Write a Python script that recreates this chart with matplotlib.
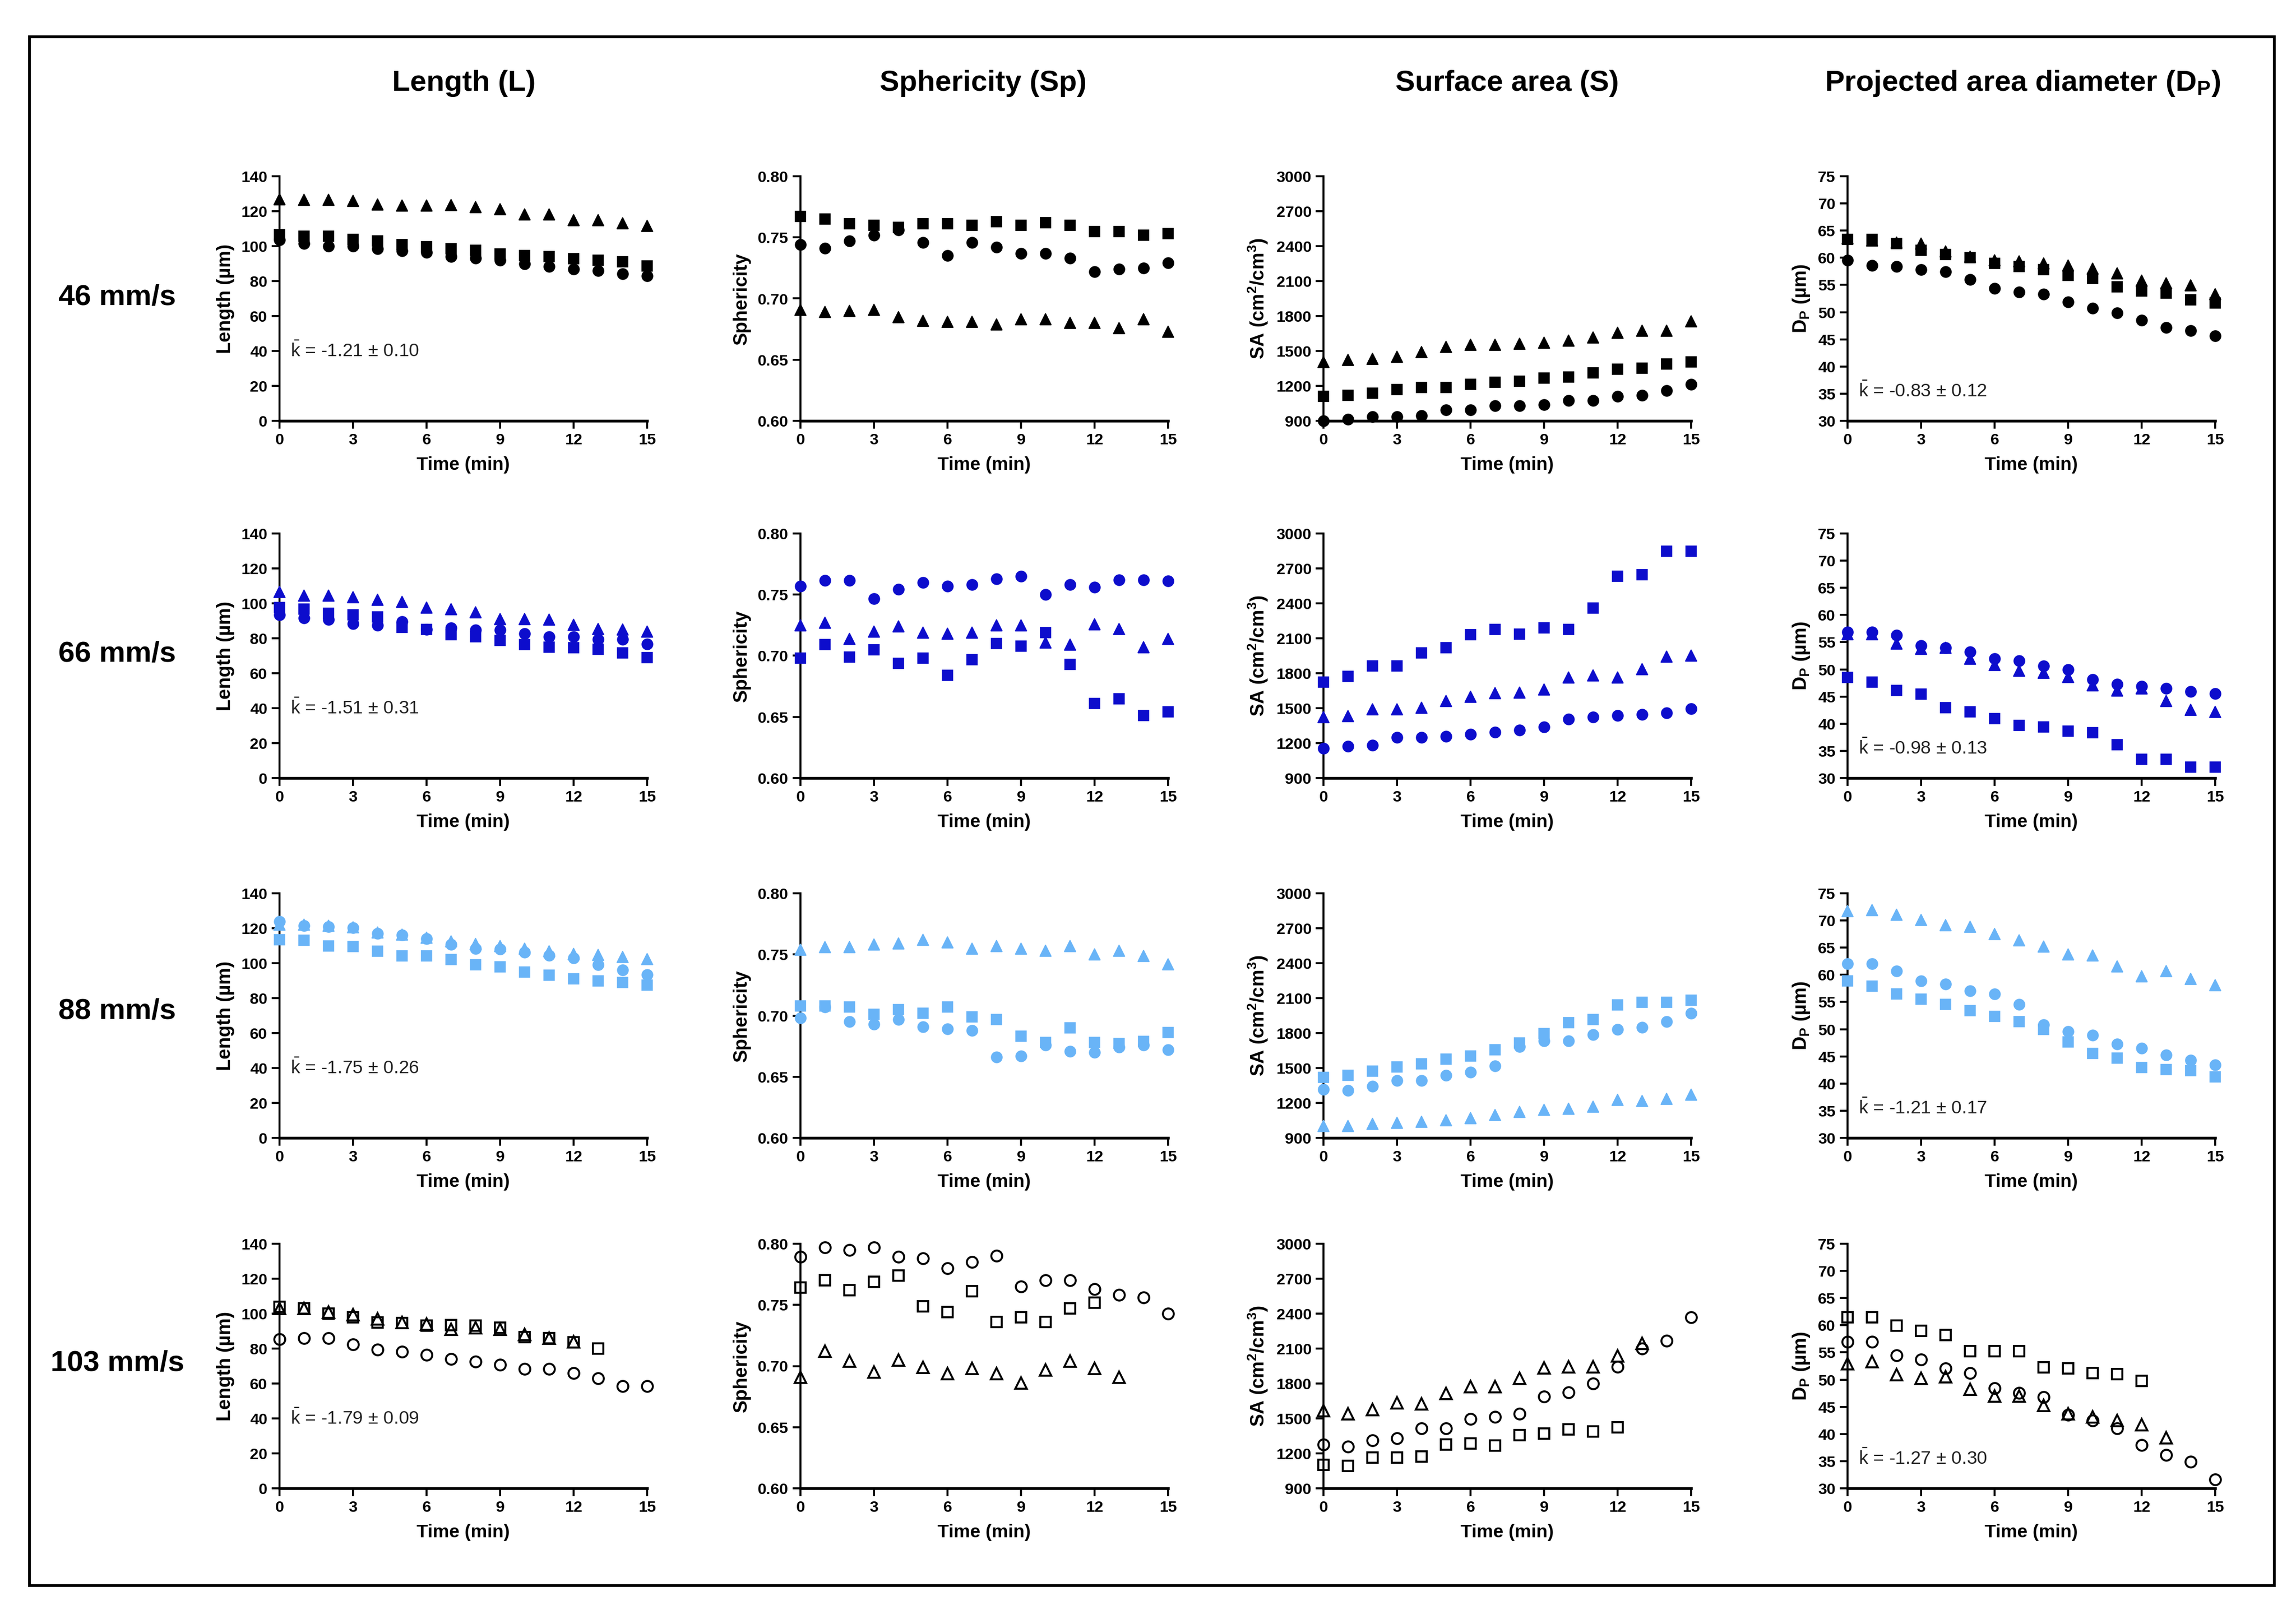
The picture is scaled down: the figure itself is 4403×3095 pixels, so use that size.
import matplotlib.pyplot as plt
import matplotlib.patches as mpatches
from matplotlib.ticker import FormatStrFormatter

plt.rcParams["font.family"] = ["Liberation Sans", "DejaVu Sans"]
plt.rcParams["mathtext.fontset"] = "custom"
plt.rcParams["mathtext.rm"] = "Liberation Sans"
plt.rcParams["mathtext.bf"] = "Liberation Sans:bold"
plt.rcParams["mathtext.it"] = "Liberation Sans:italic"

W, H, DPI = 4403, 3095, 300

TIME = list(range(16))

# ---------- 46 mm/s (filled black) ----------
LENGTH_46 = {
    "circle":   [103.5, 101.5, 100, 100, 98.5, 97.3, 96.3, 94, 93, 92, 90, 88.5, 87, 86, 84.3, 83],
    "square":   [106.5, 105.7, 105.7, 104, 103, 100.8, 99.8, 98.5, 97.5, 95.5, 94.7, 94, 92.7, 92, 91, 88.7],
    "triangle": [127, 126.7, 126.7, 126, 124, 123.3, 123.3, 123.5, 122.3, 121.3, 118.3, 118.3, 115, 115, 113, 111.5],
}
SPHER_46 = {
    "circle":   [0.744, 0.741, 0.747, 0.752, 0.756, 0.746, 0.735, 0.746, 0.742, 0.737, 0.737, 0.733, 0.722, 0.724, 0.725, 0.729],
    "square":   [0.767, 0.765, 0.761, 0.760, 0.758, 0.761, 0.761, 0.760, 0.763, 0.760, 0.762, 0.760, 0.755, 0.755, 0.752, 0.753],
    "triangle": [0.691, 0.689, 0.690, 0.691, 0.685, 0.682, 0.681, 0.681, 0.679, 0.683, 0.683, 0.680, 0.680, 0.676, 0.683, 0.673],
}
SA_46 = {
    "circle":   [900, 913, 937, 937, 946, 992, 992, 1029, 1029, 1038, 1075, 1075, 1112, 1121, 1158, 1213],
    "square":   [1112, 1121, 1139, 1167, 1185, 1185, 1213, 1231, 1240, 1268, 1277, 1314, 1342, 1351, 1388, 1406],
    "triangle": [1406, 1424, 1434, 1452, 1489, 1535, 1553, 1553, 1563, 1572, 1590, 1618, 1655, 1673, 1673, 1756],
}
DP_46 = {
    "circle":   [59.6, 58.6, 58.4, 57.8, 57.4, 56.0, 54.4, 53.7, 53.3, 51.9, 50.7, 49.9, 48.5, 47.2, 46.6, 45.6],
    "square":   [63.4, 63.4, 62.6, 61.4, 60.6, 60.0, 59.0, 58.4, 57.8, 56.8, 56.2, 54.7, 53.9, 53.5, 52.3, 51.7],
    "triangle": [63.6, 63.2, 62.8, 62.6, 61.2, 60.2, 59.6, 59.4, 59.0, 58.6, 58.0, 57.2, 55.8, 55.3, 54.9, 53.3],
}

# ---------- 66 mm/s (filled blue) ----------
LENGTH_66 = {
    "circle":   [93.5, 91.5, 90.7, 88.5, 87.5, 89.5, 85, 86, 84.8, 84.8, 82.7, 81, 81, 79.5, 79.3, 76.7],
    "square":   [97.5, 96.7, 94.3, 93.3, 92.3, 86.3, 85, 82, 81, 78.7, 76.5, 75, 74.5, 73.7, 71.5, 69],
    "triangle": [106.5, 104.5, 104.5, 103.7, 102, 101, 97.7, 96.8, 95, 91, 91, 90.7, 87.7, 85.5, 85, 84],
}
SPHER_66 = {
    "circle":   [0.757, 0.7615, 0.7615, 0.7466, 0.7545, 0.760, 0.757, 0.758, 0.763, 0.765, 0.750, 0.758, 0.756, 0.762, 0.762, 0.761],
    "square":   [0.698, 0.709, 0.699, 0.705, 0.694, 0.698, 0.684, 0.697, 0.710, 0.708, 0.719, 0.693, 0.661, 0.665, 0.651, 0.654],
    "triangle": [0.725, 0.727, 0.714, 0.720, 0.724, 0.719, 0.718, 0.719, 0.725, 0.725, 0.711, 0.709, 0.726, 0.722, 0.707, 0.714],
}
SA_66 = {
    "circle":   [1157, 1175, 1184, 1248, 1248, 1258, 1276, 1294, 1313, 1340, 1404, 1423, 1437, 1445, 1459, 1496],
    "square":   [1725, 1771, 1863, 1863, 1976, 2019, 2132, 2174, 2138, 2189, 2174, 2358, 2633, 2647, 2849, 2849],
    "triangle": [1423, 1432, 1490, 1490, 1505, 1564, 1597, 1628, 1634, 1661, 1762, 1780, 1762, 1835, 1945, 1954],
}
DP_66 = {
    "circle":   [56.9, 56.9, 56.3, 54.4, 54.0, 53.2, 52.0, 51.6, 50.6, 50.0, 48.1, 47.3, 46.9, 46.5, 45.9, 45.5],
    "square":   [48.5, 47.7, 46.1, 45.4, 43.0, 42.2, 40.9, 39.7, 39.4, 38.6, 38.3, 36.1, 33.5, 33.5, 32.0, 32.0],
    "triangle": [56.5, 56.5, 54.8, 53.8, 54.0, 52.0, 50.8, 49.8, 49.4, 48.6, 47.1, 46.1, 46.5, 44.2, 42.6, 42.2],
}

# ---------- 88 mm/s (filled light blue) ----------
LENGTH_88 = {
    "circle":   [124, 121.5, 121, 120.3, 117, 116, 114, 110.7, 108.5, 108, 106.3, 104.5, 103, 99, 96, 93.5],
    "square":   [113.5, 113, 110, 109.5, 107, 104.3, 104.3, 102, 99, 98, 95, 93, 91, 90, 89, 87.5],
    "triangle": [122, 122, 121.5, 120.5, 117.5, 116.5, 114.5, 112.5, 111, 110, 108.5, 107, 105.5, 104.7, 103.5, 102.5],
}
SPHER_88 = {
    "circle":   [0.698, 0.707, 0.695, 0.693, 0.697, 0.691, 0.689, 0.688, 0.666, 0.667, 0.676, 0.671, 0.670, 0.674, 0.676, 0.672],
    "square":   [0.708, 0.708, 0.707, 0.701, 0.705, 0.702, 0.707, 0.699, 0.697, 0.683, 0.678, 0.690, 0.678, 0.677, 0.679, 0.686],
    "triangle": [0.754, 0.756, 0.756, 0.758, 0.759, 0.762, 0.760, 0.755, 0.757, 0.755, 0.753, 0.757, 0.750, 0.753, 0.749, 0.742],
}
SA_88 = {
    "circle":   [1318, 1308, 1345, 1391, 1391, 1437, 1465, 1520, 1685, 1731, 1731, 1787, 1833, 1851, 1897, 1971],
    "square":   [1419, 1437, 1474, 1511, 1538, 1575, 1603, 1658, 1713, 1796, 1888, 1915, 2044, 2062, 2062, 2081],
    "triangle": [1005, 1005, 1023, 1032, 1041, 1051, 1069, 1097, 1124, 1143, 1152, 1170, 1226, 1216, 1235, 1272],
}
DP_88 = {
    "circle":   [62.0, 62.0, 60.7, 58.9, 58.3, 57.1, 56.5, 54.6, 50.8, 49.6, 48.9, 47.3, 46.5, 45.3, 44.3, 43.4],
    "square":   [58.9, 57.9, 56.5, 55.5, 54.6, 53.4, 52.4, 51.4, 50.0, 47.7, 45.5, 44.7, 43.0, 42.6, 42.4, 41.2],
    "triangle": [71.7, 71.9, 71.1, 70.1, 69.1, 68.9, 67.5, 66.4, 65.2, 63.8, 63.6, 61.6, 59.7, 60.7, 59.3, 58.1],
}

# ---------- 103 mm/s (open black) ----------
LENGTH_103 = {
    "circle":   [85.5, 86, 86, 82.4, 79.4, 78.2, 76.3, 73.9, 72.6, 70.8, 68.4, 68.4, 65.9, 62.9, 58.6, 58.6],
    "square":   [103.9, 103, 100, 98, 95, 94.5, 93, 93.3, 93, 92, 86.7, 86, 83.6, 80],
    "triangle": [103, 103, 101, 99.5, 97, 95, 94, 91, 92, 91, 88, 86, 84],
}
SPHER_103 = {
    "circle":   [0.7895, 0.797, 0.795, 0.797, 0.7895, 0.788, 0.780, 0.785, 0.790, 0.765, 0.770, 0.770, 0.763, 0.758, 0.756, 0.743],
    "square":   [0.764, 0.770, 0.762, 0.769, 0.774, 0.749, 0.744, 0.761, 0.736, 0.740, 0.736, 0.747, 0.752],
    "triangle": [0.691, 0.712, 0.704, 0.695, 0.705, 0.699, 0.694, 0.698, 0.694, 0.686, 0.697, 0.704, 0.698, 0.691],
}
SA_103 = {
    "circle":   [1276, 1258, 1313, 1331, 1413, 1413, 1496, 1514, 1542, 1688, 1725, 1798, 1945, 2101, 2165, 2367],
    "square":   [1102, 1093, 1166, 1166, 1175, 1276, 1285, 1267, 1358, 1368, 1404, 1386, 1423],
    "triangle": [1569, 1542, 1578, 1633, 1624, 1716, 1771, 1771, 1844, 1936, 1945, 1945, 2037, 2147],
}
DP_103 = {
    "circle":   [57.0, 57.0, 54.5, 53.7, 52.1, 51.2, 48.4, 47.6, 46.8, 43.5, 42.5, 41.0, 38.0, 36.1, 34.9, 31.6],
    "square":   [61.5, 61.5, 59.9, 59.0, 58.2, 55.2, 55.2, 55.2, 52.3, 52.1, 51.2, 51.0, 49.8],
    "triangle": [52.9, 53.3, 50.9, 50.2, 50.5, 48.2, 47.0, 47.0, 45.3, 43.7, 43.1, 42.5, 41.7, 39.3],
}

SPEEDS = ["46 mm/s", "66 mm/s", "88 mm/s", "103 mm/s"]
COLUMN_TITLES = ["Length (L)", "Sphericity (Sp)", "Surface area (S)",
                 r"Projected area diameter (D$_\mathbf{P}$)"]
K_LENGTH = ["-1.21 ± 0.10", "-1.51 ± 0.31", "-1.75 ± 0.26", "-1.79 ± 0.09"]
K_DP = ["-0.83 ± 0.12", "-0.98 ± 0.13", "-1.21 ± 0.17", "-1.27 ± 0.30"]

PANELS = [
    [LENGTH_46, SPHER_46, SA_46, DP_46],
    [LENGTH_66, SPHER_66, SA_66, DP_66],
    [LENGTH_88, SPHER_88, SA_88, DP_88],
    [LENGTH_103, SPHER_103, SA_103, DP_103],
]

# ---------- styling ----------
ROW_COLORS = ["#000000", "#0d0dcc", "#69b4f7", "#000000"]
ROW_OPEN = [False, False, False, True]
MARKERS = {"square": ("s", 4.6), "circle": ("o", 5.0), "triangle": ("^", 5.4)}

Y_LABELS = ["Length (µm)", "Sphericity", r"SA (cm$^\mathbf{2}$/cm$^\mathbf{3}$)", r"D$_\mathbf{P}$ (µm)"]
Y_LIMS = [(0, 140), (0.60, 0.80), (900, 3000), (30, 75)]
Y_TICKS = [list(range(0, 141, 20)), [0.60, 0.65, 0.70, 0.75, 0.80],
           list(range(900, 3001, 300)), list(range(30, 76, 5))]
Y_FMT = ["%d", "%.2f", "%d", "%d"]

COL_X0 = [536, 1535, 2538, 3543]
ROW_TOP = [338, 1023, 1713, 2385]
AX_W, AX_H = 705, 469

fig = plt.figure(figsize=(W / DPI, H / DPI), dpi=DPI)
fig.patch.set_facecolor("white")

# outer frame
fig.add_artist(mpatches.Rectangle((56 / W, 1 - 3040 / H), (4361 - 56) / W, (3040 - 70) / H,
                                  transform=fig.transFigure, fill=False, edgecolor="black", lw=1.3))

for r in range(4):
    for c in range(4):
        ax = fig.add_axes([COL_X0[c] / W, 1 - (ROW_TOP[r] + AX_H) / H, AX_W / W, AX_H / H])
        data = PANELS[r][c]
        color = ROW_COLORS[r]
        for name in ["square", "circle", "triangle"]:
            vals = data[name]
            mk, ms = MARKERS[name]
            if ROW_OPEN[r]:
                ax.plot(TIME[:len(vals)], vals, linestyle="none", marker=mk, ms=ms,
                        mfc="none", mec=color, mew=0.9, clip_on=False, zorder=3)
            else:
                ax.plot(TIME[:len(vals)], vals, linestyle="none", marker=mk, ms=ms,
                        mfc=color, mec=color, mew=0.4, clip_on=False, zorder=3)

        ax.set_xlim(0, 15)
        ax.set_ylim(*Y_LIMS[c])
        ax.set_xticks(range(0, 16, 3))
        ax.set_yticks(Y_TICKS[c])
        ax.yaxis.set_major_formatter(FormatStrFormatter(Y_FMT[c]))
        for s in ["top", "right"]:
            ax.spines[s].set_visible(False)
        ax.spines["left"].set_linewidth(0.9)
        ax.spines["bottom"].set_linewidth(1.3)
        ax.tick_params(direction="out", length=3.5, width=0.9, labelsize=7.3, pad=2)
        for lab in ax.get_xticklabels() + ax.get_yticklabels():
            lab.set_fontweight("bold")
        ax.set_xlabel("Time (min)", fontsize=8.5, fontweight="bold", labelpad=4)
        ax.set_ylabel(Y_LABELS[c], fontsize=8.8, fontweight="bold", labelpad=3)

        if c == 0:
            ax.text(0.45, 40, r"$\bar{\mathrm{k}}$ = " + K_LENGTH[r], fontsize=8.5,
                    color="#222222", ha="left", va="center")
        if c == 3:
            ax.text(0.45, 35.5, r"$\bar{\mathrm{k}}$ = " + K_DP[r], fontsize=8.5,
                    color="#222222", ha="left", va="center")

# column titles
for x, title in zip([890, 1885, 2890, 3879], COLUMN_TITLES):
    fig.text(x / W, 1 - 160 / H, title, fontsize=13.5, fontweight="bold", ha="center", va="center")

# row labels
for y, speed in zip([570, 1254, 1939, 2615], SPEEDS):
    fig.text(225 / W, 1 - y / H, speed, fontsize=13.5, fontweight="bold", ha="center", va="center")

fig.savefig("out.png", dpi=DPI)
plt.close(fig)
